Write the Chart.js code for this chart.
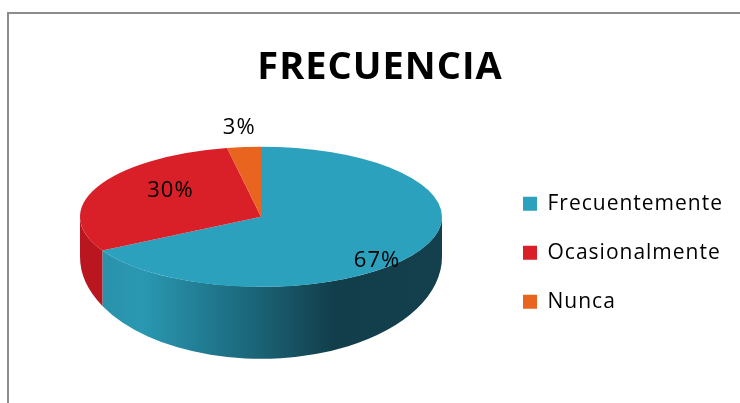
<!DOCTYPE html>
<html>
<head>
<meta charset="utf-8">
<title>Frecuencia</title>
<script src="https://cdn.jsdelivr.net/npm/chart.js@4.4.0/dist/chart.umd.min.js"></script>
<style>
  html, body { margin: 0; padding: 0; background: #fff; }
  body { width: 740px; height: 403px; overflow: hidden; position: relative; }
  #frame {
    position: absolute; left: 7px; top: 12px; width: 800px; height: 450px;
    border-left: 2px solid #8c8c8c; border-top: 2px solid #8c8c8c;
  }
  #wrap { position: absolute; left: 0; top: 0; width: 740px; height: 403px; }
</style>
</head>
<body>
<div id="frame"></div>
<div id="wrap"><canvas id="pieChart" width="740" height="403"></canvas></div>
<script>
// data
const categories = ['Frecuentemente', 'Ocasionalmente', 'Nunca'];
const percentages = [67, 30, 3];

// look
const sliceColors = ['#2ca1be', '#d91f28', '#e8641f'];
const sideColors = [null, '#b9161f', '#c4521a']; // null -> gradient for the big slice
const TILT = 0.387;        // vertical squash of the top face
const FRONT_DEPTH = 72;    // thickness at the front of the cake
const SIDE_DEPTH = 40;     // thickness seen at the left / right ends
const LETTER_SPACING = '1px'; // the original text is a bit wide
// label placement per slice: angle shift (deg) and radius fraction
const labelPlace = [{ shift: 14, frac: 0.9 }, { shift: 11, frac: 0.62 }, { shift: 0, frac: 1.28 }];

const FONT = '"Open Sans", "Noto Sans", sans-serif';
Chart.defaults.font.family = FONT;
Chart.defaults.color = '#000';

const spacing = {
  id: 'spacing',
  beforeLayout(chart) { chart.ctx.letterSpacing = LETTER_SPACING; },
  beforeDraw(chart) { chart.ctx.letterSpacing = LETTER_SPACING; }
};

// fake 3D: draw the walls, then squash the library's own arcs into an ellipse
const pie3d = {
  id: 'pie3d',
  beforeDatasetsDraw(chart) {
    const meta = chart.getDatasetMeta(0);
    if (!meta.data.length) return;
    const { x, y, outerRadius: r } = meta.data[0];
    const ctx = chart.ctx;
    const cyTop = y - FRONT_DEPTH / 2;
    const ryTop = r * TILT;
    const cyBot = cyTop + SIDE_DEPTH;
    const ryBot = ryTop + FRONT_DEPTH - SIDE_DEPTH;

    const grad = ctx.createLinearGradient(x - r, 0, x + r, 0);
    grad.addColorStop(0, '#2b8ea7');
    grad.addColorStop(0.17, '#2a98b2');
    grad.addColorStop(0.45, '#1c6a7e');
    grad.addColorStop(0.7, '#123e4b');
    grad.addColorStop(1, '#14404d');

    meta.data.forEach((arc, i) => {
      let s = arc.startAngle, e = arc.endAngle;
      // visible front half is 0..PI (also check the wrapped copies)
      [0, 2 * Math.PI, -2 * Math.PI].forEach(off => {
        const a1 = Math.max(s, off), a2 = Math.min(e, off + Math.PI);
        if (a2 <= a1) return;
        ctx.save();
        ctx.beginPath();
        ctx.ellipse(x, cyTop, r, ryTop, 0, a1, a2);
        ctx.ellipse(x, cyBot, r, ryBot, 0, a2, a1, true);
        ctx.closePath();
        ctx.fillStyle = sideColors[i] || grad;
        ctx.fill();
        ctx.restore();
      });
    });

    ctx.save();
    ctx.translate(x, cyTop);
    ctx.scale(1, TILT);
    ctx.translate(-x, -y);
  },
  afterDatasetsDraw(chart) {
    const ctx = chart.ctx;
    ctx.restore();
    const meta = chart.getDatasetMeta(0);
    if (!meta.data.length) return;
    ctx.save();
    ctx.font = '22px ' + FONT;
    ctx.fillStyle = '#000';
    ctx.textAlign = 'center';
    ctx.textBaseline = 'middle';
    meta.data.forEach((arc, i) => {
      const { x, y, outerRadius: r, startAngle, endAngle } = arc;
      const p = labelPlace[i];
      const mid = (startAngle + endAngle) / 2 + p.shift * Math.PI / 180;
      const px = x + Math.cos(mid) * r * p.frac;
      const py = y - FRONT_DEPTH / 2 + Math.sin(mid) * r * p.frac * TILT;
      ctx.fillText(percentages[i] + '%', px, py);
    });
    ctx.restore();
  }
};

new Chart(document.getElementById('pieChart'), {
  type: 'pie',
  data: {
    labels: categories,
    datasets: [{
      data: percentages,
      backgroundColor: sliceColors,
      borderWidth: 0,
      radius: 181
    }]
  },
  options: {
    responsive: false,
    animation: false,
    events: [],
    layout: { padding: { left: 27, right: 7, top: 0, bottom: 0 } },
    plugins: {
      tooltip: { enabled: false },
      title: {
        display: true,
        text: 'FRECUENCIA',
        font: { size: 38, weight: 'bold', family: FONT },
        color: '#000',
        padding: { top: 45, bottom: 12 }
      },
      legend: {
        position: 'right',
        fullSize: false,
        labels: {
          boxWidth: 14,
          boxHeight: 14,
          padding: 28,
          font: { size: 21, family: FONT },
          color: '#000'
        }
      }
    }
  },
  plugins: [spacing, pie3d]
});
</script>
</body>
</html>
